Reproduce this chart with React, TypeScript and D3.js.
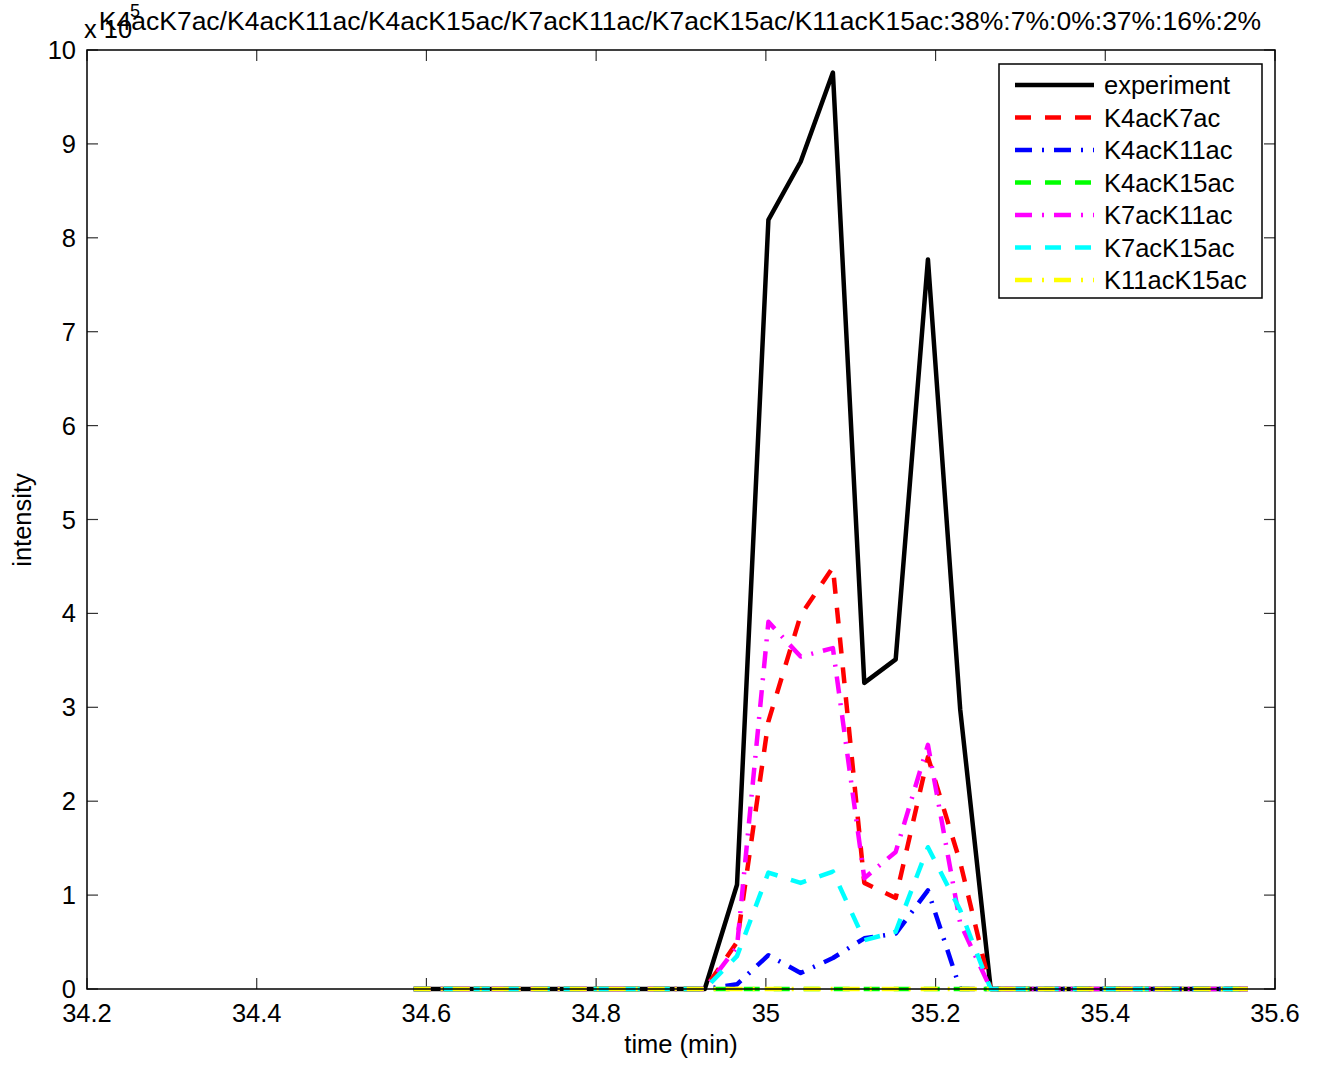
import React from 'react';
import * as d3 from 'd3';

const width = 1318;
const height = 1068;
const margin = { top: 50, right: 43, bottom: 79, left: 87 };

// retention time (min)
const times = [
  34.585, 34.623, 34.661, 34.699, 34.737, 34.775, 34.813, 34.851, 34.889,
  34.928, 34.966, 35.003, 35.041, 35.079, 35.116, 35.153, 35.191, 35.229,
  35.265, 35.303, 35.341, 35.379, 35.417, 35.455, 35.493, 35.531, 35.568
];

// intensities, x 10^5
const experiment = [0, 0, 0, 0, 0, 0, 0, 0, 0, 0, 1.11, 8.19, 8.81, 9.76, 3.26, 3.51, 7.77, 2.98, 0, 0, 0, 0, 0, 0, 0, 0, 0];
const k4k7 = [0, 0, 0, 0, 0, 0, 0, 0, 0, 0, 0.5, 2.85, 3.98, 4.49, 1.13, 0.97, 2.47, 1.35, 0, 0, 0, 0, 0, 0, 0, 0, 0];
const k4k11 = [0, 0, 0, 0, 0, 0, 0, 0, 0, 0, 0.05, 0.36, 0.17, 0.33, 0.54, 0.59, 1.05, 0, 0, 0, 0, 0, 0, 0, 0, 0, 0];
const k4k15 = [0, 0, 0, 0, 0, 0, 0, 0, 0, 0, 0, 0, 0, 0, 0, 0, 0, 0, 0, 0, 0, 0, 0, 0, 0, 0, 0];
const k7k11 = [0, 0, 0, 0, 0, 0, 0, 0, 0, 0, 0.45, 3.91, 3.54, 3.63, 1.18, 1.46, 2.6, 0.7, 0, 0, 0, 0, 0, 0, 0, 0, 0];
const k7k15 = [0, 0, 0, 0, 0, 0, 0, 0, 0, 0, 0.35, 1.24, 1.13, 1.25, 0.52, 0.61, 1.51, 0.84, 0, 0, 0, 0, 0, 0, 0, 0, 0];
const k11k15 = [0, 0, 0, 0, 0, 0, 0, 0, 0, 0, 0, 0, 0, 0, 0, 0, 0, 0, 0, 0, 0, 0, 0, 0, 0, 0, 0];

const xTicks = [34.2, 34.4, 34.6, 34.8, 35, 35.2, 35.4, 35.6];
const yTicks = [0, 1, 2, 3, 4, 5, 6, 7, 8, 9, 10];

const title = 'K4acK7ac/K4acK11ac/K4acK15ac/K7acK11ac/K7acK15ac/K11acK15ac:38%:7%:0%:37%:16%:2%';

const DASH = '16,14';
const DASHDOT = '17,10,2,10';

const series = [
  { name: 'experiment', values: experiment, color: '#000000', dash: null },
  { name: 'K4acK7ac', values: k4k7, color: '#ff0000', dash: DASH },
  { name: 'K4acK11ac', values: k4k11, color: '#0000ff', dash: DASHDOT },
  { name: 'K4acK15ac', values: k4k15, color: '#00ff00', dash: DASH },
  { name: 'K7acK11ac', values: k7k11, color: '#ff00ff', dash: DASHDOT },
  { name: 'K7acK15ac', values: k7k15, color: '#00ffff', dash: DASH },
  { name: 'K11acK15ac', values: k11k15, color: '#ffff00', dash: DASHDOT }
];

const font = '"Liberation Sans", Arial, Helvetica, sans-serif';
const fs = 25.5;

export default function App() {
  const x = d3.scaleLinear().domain([34.2, 35.6]).range([margin.left, width - margin.right]);
  const y = d3.scaleLinear().domain([0, 10]).range([height - margin.bottom, margin.top]);
  const line = d3
    .line<number>()
    .x((_, i) => x(times[i]))
    .y(d => y(d));

  const x0 = margin.left;
  const x1 = width - margin.right;
  const y0 = height - margin.bottom;
  const y1 = margin.top;
  const tick = 11;

  const legX = 999;
  const legY = 64;
  const rowH = 32.5;

  return (
    <svg width={width} height={height} style={{ position: 'absolute', left: 0, top: 0, background: '#fff' }} fontFamily={font}>
      <rect x={0} y={0} width={width} height={height} fill="#fff" />

      {/* ticks */}
      {xTicks.map(t => (
        <g key={'xt' + t}>
          <line x1={x(t)} x2={x(t)} y1={y0} y2={y0 - tick} stroke="#333" strokeWidth={1.2} />
          <line x1={x(t)} x2={x(t)} y1={y1} y2={y1 + tick} stroke="#333" strokeWidth={1.2} />
          <text x={x(t)} y={1022} fontSize={fs} textAnchor="middle">{t}</text>
        </g>
      ))}
      {yTicks.map(t => (
        <g key={'yt' + t}>
          <line x1={x0} x2={x0 + tick} y1={y(t)} y2={y(t)} stroke="#333" strokeWidth={1.2} />
          <line x1={x1} x2={x1 - tick} y1={y(t)} y2={y(t)} stroke="#333" strokeWidth={1.2} />
          <text x={76} y={y(t) + 9} fontSize={fs} textAnchor="end">{t}</text>
        </g>
      ))}

      {/* series */}
      {series.map(s => (
        <path
          key={s.name}
          d={line(s.values) || ''}
          fill="none"
          stroke={s.color}
          strokeWidth={4.5}
          strokeDasharray={s.dash || undefined}
          strokeLinejoin="round"
        />
      ))}

      {/* frame */}
      <rect x={x0} y={y1} width={x1 - x0} height={y0 - y1} fill="none" stroke="#000" strokeWidth={1.5} />

      {/* legend */}
      <rect x={legX} y={legY} width={263} height={234} fill="#fff" stroke="#000" strokeWidth={1.5} />
      {series.map((s, i) => {
        const cy = legY + 21 + i * rowH;
        return (
          <g key={'leg' + s.name}>
            <line
              x1={1015}
              x2={1094}
              y1={cy}
              y2={cy}
              stroke={s.color}
              strokeWidth={4.5}
              strokeDasharray={s.dash || undefined}
            />
            <text x={1104} y={cy + 9} fontSize={fs}>{s.name}</text>
          </g>
        );
      })}

      {/* labels */}
      <text x={680} y={30} fontSize={26.5} textAnchor="middle">{title}</text>
      <text x={84} y={38} fontSize={fs}>x 10</text>
      <text x={130} y={17} fontSize={18}>5</text>
      <text x={681} y={1053} fontSize={fs} textAnchor="middle">time (min)</text>
      <text transform={`translate(31, 520) rotate(-90)`} fontSize={fs} textAnchor="middle">intensity</text>
    </svg>
  );
}
